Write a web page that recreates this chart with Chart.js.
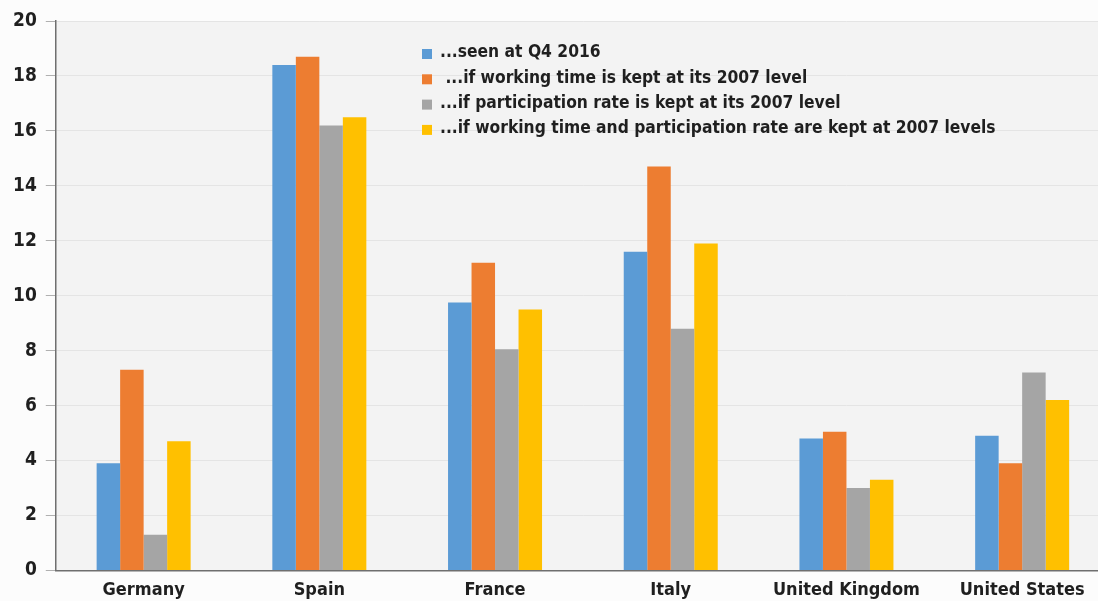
<!DOCTYPE html>
<html>
<head>
<meta charset="utf-8">
<script src="https://cdn.jsdelivr.net/npm/chart.js@4"></script>
<style>
  html, body { margin: 0; padding: 0; background: #fcfcfc; overflow: hidden; }
  #wrap { width: 1110px; height: 602px; }
</style>
</head>
<body>
<div id="wrap"><canvas id="chart"></canvas></div>
<script>
// data
const countries = ['Germany', 'Spain', 'France', 'Italy', 'United Kingdom', 'United States'];
const seenQ4 = [3.9, 18.4, 9.75, 11.6, 4.8, 4.9];
const workTime2007 = [7.3, 18.7, 11.2, 14.7, 5.05, 3.9];
const participation2007 = [1.3, 16.2, 8.05, 8.8, 3.0, 7.2];
const both2007 = [4.7, 16.5, 9.5, 11.9, 3.3, 6.2];
const seriesNames = [
  '...seen at Q4 2016',
  ' ...if working time is kept at its 2007 level',
  '...if participation rate is kept at its 2007 level',
  '...if working time and participation rate are kept at 2007 levels'
];
const yTicks = [0, 2, 4, 6, 8, 10, 12, 14, 16, 18, 20];

const FONT = "'Liberation Sans Narrow', 'DejaVu Sans Condensed', 'Open Sans', sans-serif";

// grey plot background
const plotBg = {
  id: 'plotBg',
  beforeDraw(chart) {
    const { ctx, chartArea: a } = chart;
    ctx.save();
    ctx.fillStyle = '#f3f3f3';
    ctx.fillRect(a.left, a.top, a.right - a.left, a.bottom - a.top);
    ctx.restore();
  }
};

// legend drawn inside the plot, top middle
const innerLegend = {
  id: 'innerLegend',
  afterDatasetsDraw(chart) {
    const ctx = chart.ctx;
    const x0 = 422, y0 = 53, rowH = 25.3;
    ctx.save();
    ctx.font = "600 17.3px " + FONT;
    ctx.textBaseline = 'middle';
    chart.data.datasets.forEach((ds, i) => {
      const y = y0 + i * rowH;
      ctx.fillStyle = ds.backgroundColor;
      ctx.fillRect(x0, y - 4, 10, 10);
      ctx.fillStyle = '#1f1f1f';
      ctx.fillText(ds.label, x0 + 18, y);
    });
    ctx.restore();
  }
};

const colors = ['#5b9bd5', '#ed7d31', '#a5a5a5', '#ffc000'];
const values = [seenQ4, workTime2007, participation2007, both2007];

new Chart(document.getElementById('chart'), {
  type: 'bar',
  data: {
    labels: countries,
    datasets: values.map((v, i) => ({
      label: seriesNames[i],
      data: v,
      backgroundColor: colors[i],
      borderWidth: 0,
      categoryPercentage: 0.535,
      barPercentage: 1
    }))
  },
  options: {
    responsive: true,
    maintainAspectRatio: false,
    animation: false,
    layout: { padding: { top: 21, left: 4, right: 0, bottom: 0 } },
    plugins: { legend: { display: false }, tooltip: { enabled: false } },
    scales: {
      x: {
        grid: { display: false },
        border: { color: '#6f6f6f', width: 1.5 },
        ticks: { color: '#1f1f1f', font: { family: FONT, size: 18, weight: '600' }, padding: 1 }
      },
      y: {
        min: 0,
        max: 20,
        afterBuildTicks(scale) { scale.ticks = yTicks.map(v => ({ value: v })); },
        grid: { color: '#e4e4e4', tickColor: '#b0b0b0', tickLength: 10, lineWidth: 1 },
        border: { color: '#6f6f6f', width: 1.5 },
        ticks: { color: '#1f1f1f', font: { family: FONT, size: 19, weight: '600' }, padding: 9 }
      }
    }
  },
  plugins: [plotBg, innerLegend]
});
</script>
</body>
</html>
